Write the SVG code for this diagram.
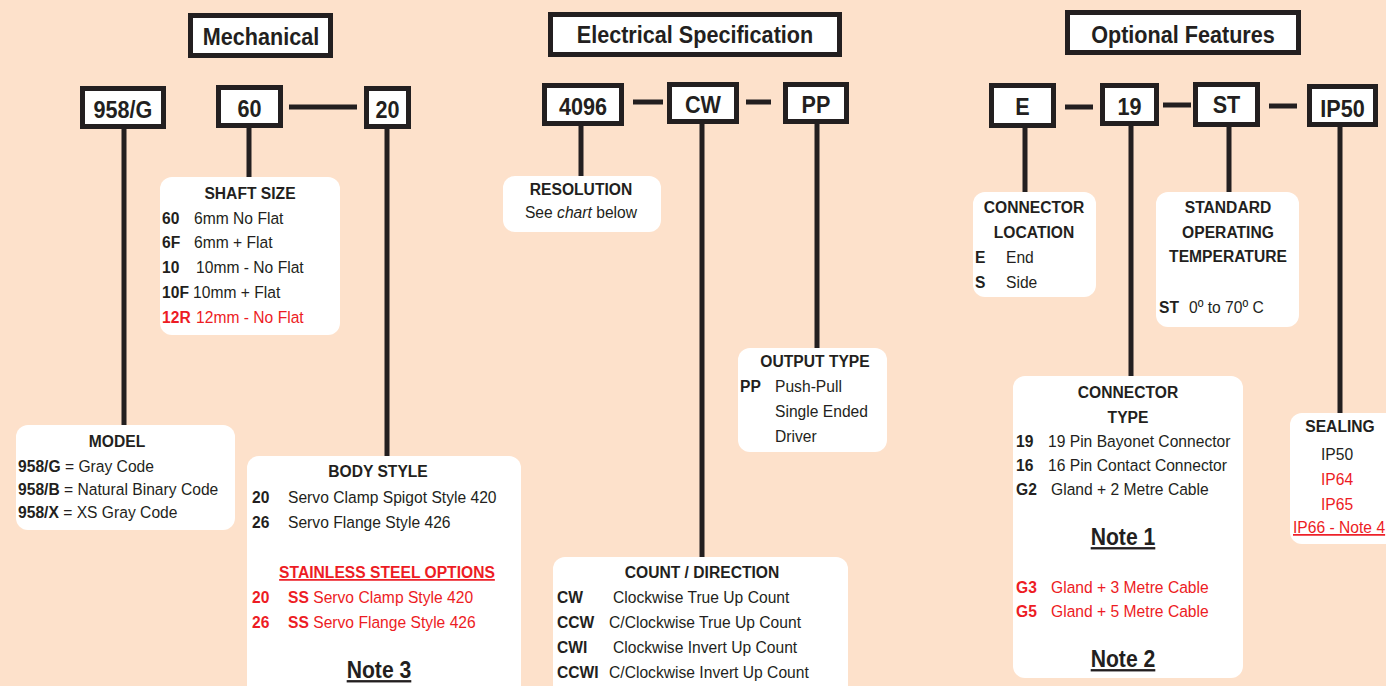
<svg xmlns="http://www.w3.org/2000/svg" width="1386" height="686" viewBox="0 0 1386 686">
<style>
text{font-family:"Liberation Sans",Arial,sans-serif;fill:#231F20;font-size:17px;transform-box:fill-box;transform-origin:0 0;transform:scaleX(0.92)}
text.c{text-anchor:middle;transform-origin:50% 0}
.b{font-weight:bold}
text.big{font-size:24px;font-weight:bold;transform:scaleX(0.9)}
text.note{font-size:23.5px;font-weight:bold;transform:scaleX(0.9);text-decoration:underline}
.r{fill:#ED1C24}
.u{text-decoration:underline}
.code{fill:#fff;stroke:#231F20;stroke-width:5}
.panel{fill:#fff;stroke:none}
.conn line{stroke:#231F20;stroke-width:5}
</style>
<rect x="0" y="0" width="1386" height="686" fill="#FDE1CB"/>
<g class="conn">
<line x1="124" y1="128" x2="124" y2="427"/>
<line x1="249" y1="127" x2="249" y2="179"/>
<line x1="387" y1="128" x2="387" y2="458"/>
<line x1="289" y1="107" x2="357" y2="107"/>
<line x1="581" y1="125" x2="581" y2="178"/>
<line x1="702" y1="123" x2="702" y2="559"/>
<line x1="817" y1="123" x2="817" y2="350"/>
<line x1="633" y1="102" x2="663" y2="102"/>
<line x1="746" y1="102" x2="771" y2="102"/>
<line x1="1025" y1="127" x2="1025" y2="194"/>
<line x1="1131" y1="125" x2="1131" y2="378"/>
<line x1="1229" y1="126" x2="1229" y2="194"/>
<line x1="1340" y1="126" x2="1340" y2="415"/>
<line x1="1065" y1="107" x2="1093" y2="107"/>
<line x1="1163" y1="105" x2="1191" y2="105"/>
<line x1="1269" y1="106" x2="1297" y2="106"/>
</g>
<g id="title-mechanical"><rect class="code" x="190.5" y="15.5" width="140" height="40"/><text class="big c" x="261" y="45">Mechanical</text></g>
<g id="title-electrical"><rect class="code" x="550.5" y="14.5" width="289" height="40"/><text class="big c" x="695" y="43">Electrical Specification</text></g>
<g id="title-optional"><rect class="code" x="1067.5" y="12.5" width="231" height="40"/><text class="big c" x="1183" y="43">Optional Features</text></g>

<g id="code-958G"><rect class="code" x="82.5" y="88.5" width="81" height="38"/><text class="big c" x="123" y="118">958/G</text></g>
<g id="code-60"><rect class="code" x="218.5" y="87.5" width="62" height="38"/><text class="big c" x="249.5" y="117">60</text></g>
<g id="code-20"><rect class="code" x="366.5" y="88.5" width="42" height="38"/><text class="big c" x="387.5" y="118">20</text></g>
<g id="code-4096"><rect class="code" x="544.5" y="85.5" width="77" height="38"/><text class="big c" x="583" y="115">4096</text></g>
<g id="code-CW"><rect class="code" x="669.5" y="84.5" width="67" height="37"/><text class="big c" x="703" y="113">CW</text></g>
<g id="code-PP"><rect class="code" x="785.5" y="84.5" width="61" height="37"/><text class="big c" x="816" y="113">PP</text></g>
<g id="code-E"><rect class="code" x="991.5" y="85.5" width="62" height="40"/><text class="big c" x="1022.5" y="115">E</text></g>
<g id="code-19"><rect class="code" x="1102.5" y="85.5" width="54" height="38"/><text class="big c" x="1129.5" y="115">19</text></g>
<g id="code-ST"><rect class="code" x="1195.5" y="84.5" width="62" height="40"/><text class="big c" x="1226.5" y="113">ST</text></g>
<g id="code-IP50"><rect class="code" x="1309.5" y="86.5" width="66" height="38"/><text class="big c" x="1342.5" y="117">IP50</text></g>

<g id="shaft-size">
<rect class="panel" x="160" y="177" width="180" height="158" rx="12"/>
<text class="b c" x="250" y="199">SHAFT SIZE</text>
<text class="b" x="162" y="224">60</text><text x="194" y="224">6mm No Flat</text>
<text class="b" x="162" y="248">6F</text><text x="194" y="248">6mm + Flat</text>
<text class="b" x="162" y="273">10</text><text x="196" y="273">10mm - No Flat</text>
<text class="b" x="162" y="298">10F</text><text x="193" y="298">10mm + Flat</text>
<text class="b r" x="162" y="323">12R</text><text class="r" x="196" y="323">12mm - No Flat</text>
</g>
<g id="model">
<rect class="panel" x="16" y="425" width="219" height="105" rx="12"/>
<text class="b c" x="117" y="447">MODEL</text>
<text x="18" y="472"><tspan class="b">958/G</tspan> = Gray Code</text>
<text x="18" y="495"><tspan class="b">958/B</tspan> = Natural Binary Code</text>
<text x="18" y="518"><tspan class="b">958/X</tspan> = XS Gray Code</text>
</g>
<g id="body-style">
<rect class="panel" x="247" y="456" width="274" height="250" rx="12"/>
<text class="b c" x="378" y="477">BODY STYLE</text>
<text class="b" x="252" y="503">20</text><text x="288" y="503">Servo Clamp Spigot Style 420</text>
<text class="b" x="252" y="528">26</text><text x="288" y="528">Servo Flange Style 426</text>
<text class="b c r u" x="387" y="578">STAINLESS STEEL OPTIONS</text>
<text class="b r" x="252" y="603">20</text><text class="r" x="288" y="603"><tspan class="b r">SS</tspan> Servo Clamp Style 420</text>
<text class="b r" x="252" y="628">26</text><text class="r" x="288" y="628"><tspan class="b r">SS</tspan> Servo Flange Style 426</text>
<text class="note c" x="379" y="678">Note 3</text>
</g>
<g id="resolution">
<rect class="panel" x="503" y="176" width="158" height="56" rx="12"/>
<text class="b c" x="581" y="195">RESOLUTION</text>
<text class="c" x="581" y="218">See <tspan font-style="italic">chart</tspan> below</text>
</g>
<g id="output-type">
<rect class="panel" x="738" y="348" width="149" height="104" rx="12"/>
<text class="b c" x="815" y="367">OUTPUT TYPE</text>
<text class="b" x="740" y="392">PP</text><text x="775" y="392">Push-Pull</text>
<text x="775" y="417">Single Ended</text>
<text x="775" y="442">Driver</text>
</g>
<g id="count-direction">
<rect class="panel" x="553" y="557" width="295" height="150" rx="12"/>
<text class="b c" x="702" y="578">COUNT / DIRECTION</text>
<text class="b" x="557" y="603">CW</text><text x="613" y="603">Clockwise True Up Count</text>
<text class="b" x="557" y="628">CCW</text><text x="609" y="628">C/Clockwise True Up Count</text>
<text class="b" x="557" y="653">CWI</text><text x="613" y="653">Clockwise Invert Up Count</text>
<text class="b" x="557" y="678">CCWI</text><text x="609" y="678">C/Clockwise Invert Up Count</text>
</g>
<g id="connector-location">
<rect class="panel" x="973" y="192" width="123" height="105" rx="12"/>
<text class="b c" x="1034" y="213">CONNECTOR</text>
<text class="b c" x="1034" y="238">LOCATION</text>
<text class="b" x="975" y="263">E</text><text x="1006" y="263">End</text>
<text class="b" x="975" y="288">S</text><text x="1006" y="288">Side</text>
</g>
<g id="operating-temperature">
<rect class="panel" x="1156" y="192" width="143" height="135" rx="12"/>
<text class="b c" x="1228" y="213">STANDARD</text>
<text class="b c" x="1228" y="238">OPERATING</text>
<text class="b c" x="1228" y="262">TEMPERATURE</text>
<text class="b" x="1159" y="313">ST</text><text x="1189" y="313">0º to 70º C</text>
</g>
<g id="connector-type">
<rect class="panel" x="1013" y="376" width="230" height="302" rx="12"/>
<text class="b c" x="1128" y="398">CONNECTOR</text>
<text class="b c" x="1128" y="423">TYPE</text>
<text class="b" x="1016" y="447">19</text><text x="1048" y="447">19 Pin Bayonet Connector</text>
<text class="b" x="1016" y="471">16</text><text x="1048" y="471">16 Pin Contact Connector</text>
<text class="b" x="1016" y="495">G2</text><text x="1051" y="495">Gland + 2 Metre Cable</text>
<text class="note c" x="1123" y="545">Note 1</text>
<text class="b r" x="1016" y="593">G3</text><text class="r" x="1051" y="593">Gland + 3 Metre Cable</text>
<text class="b r" x="1016" y="617">G5</text><text class="r" x="1051" y="617">Gland + 5 Metre Cable</text>
<text class="note c" x="1123" y="667">Note 2</text>
</g>
<g id="sealing">
<rect class="panel" x="1290" y="413" width="110" height="131" rx="12"/>
<text class="b c" x="1340" y="432">SEALING</text>
<text class="c" x="1337" y="460">IP50</text>
<text class="c r" x="1337" y="485">IP64</text>
<text class="c r" x="1337" y="510">IP65</text>
<text class="r u" x="1293" y="533">IP66 - Note 4</text>
</g>
</svg>
